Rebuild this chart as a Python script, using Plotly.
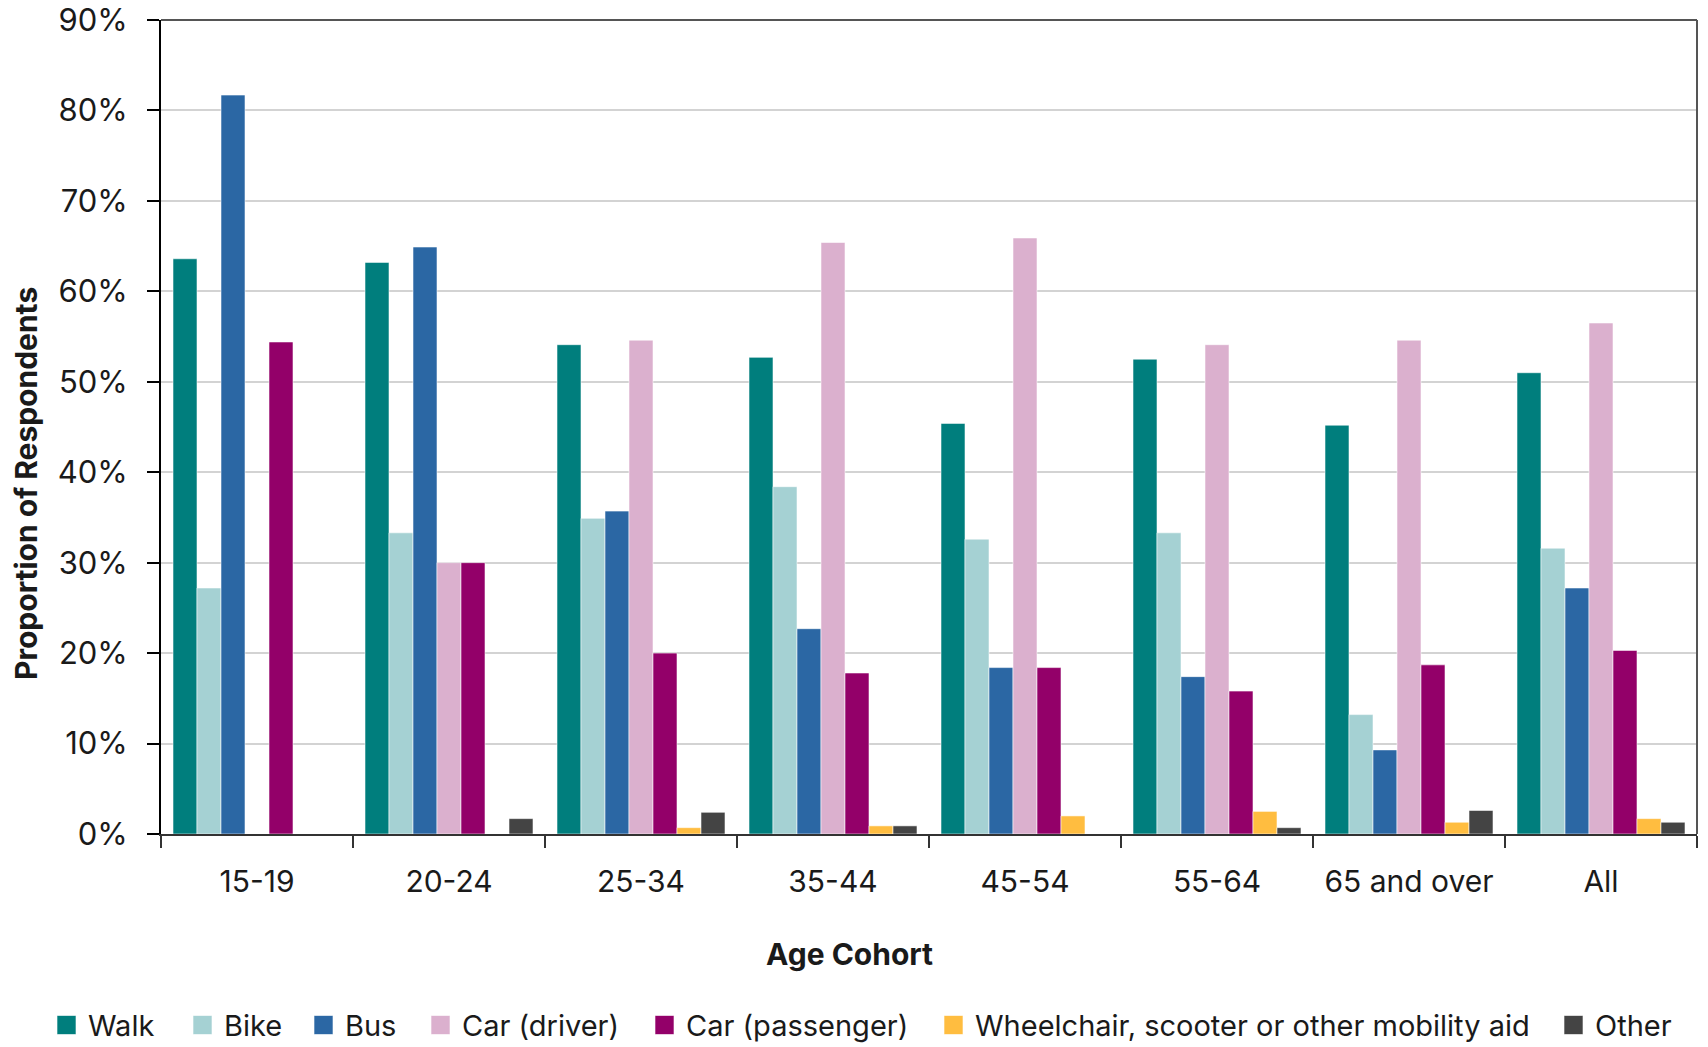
import plotly.graph_objects as go

# Age cohorts on the x axis
cohorts = ["15-19", "20-24", "25-34", "35-44", "45-54", "55-64", "65 and over", "All"]

# Share of respondents (%) using each mode, per cohort
walk = [63.6, 63.2, 54.1, 52.7, 45.4, 52.5, 45.2, 51.0]
bike = [27.2, 33.3, 34.9, 38.4, 32.6, 33.3, 13.2, 31.6]
bus = [81.7, 64.9, 35.7, 22.7, 18.4, 17.4, 9.3, 27.2]
car_driver = [0.0, 30.0, 54.6, 65.4, 65.9, 54.1, 54.6, 56.5]
car_passenger = [54.4, 30.0, 20.0, 17.8, 18.4, 15.8, 18.7, 20.3]
mobility_aid = [0.0, 0.0, 0.7, 0.9, 2.0, 2.5, 1.3, 1.7]
other = [0.0, 1.7, 2.4, 0.9, 0.0, 0.7, 2.6, 1.3]

series = [
    ("Walk", walk, "#007E7D"),
    ("Bike", bike, "#A5D1D3"),
    ("Bus", bus, "#2B67A4"),
    ("Car (driver)", car_driver, "#DBB0CE"),
    ("Car (passenger)", car_passenger, "#930069"),
    ("Wheelchair, scooter or other mobility aid", mobility_aid, "#FFBD40"),
    ("Other", other, "#444444"),
]

FONT = "Inter"
W, H = 1708, 1047
ML, MR, MT, MB = 161, 11, 20, 213
PW, PH = W - ML - MR, H - MT - MB


def px_x(px):
    """Horizontal pixel position -> paper coordinate."""
    return (px - ML) / PW


def px_y(py):
    """Vertical pixel position (from top) -> paper coordinate."""
    return (H - MB - py) / PH


fig = go.Figure()
for name, values, color in series:
    fig.add_trace(go.Bar(
        name=name,
        x=cohorts,
        y=values,
        marker=dict(color=color, line=dict(color="rgba(255,255,255,0.55)", width=1)),
        showlegend=False,
    ))

fig.update_layout(
    barmode="group",
    bargap=0.125,
    bargroupgap=0,
    width=W,
    height=H,
    margin=dict(l=ML, r=MR, t=MT, b=MB, autoexpand=False),
    paper_bgcolor="white",
    plot_bgcolor="white",
    font=dict(family=FONT, color="#1a1a1a", size=28),
    showlegend=False,
)

fig.update_xaxes(
    automargin=False,
    showline=True,
    linecolor="#333333",
    linewidth=2,
    ticks="outside",
    tickson="boundaries",
    ticklen=12,
    tickwidth=1.5,
    tickcolor="#333333",
    tickfont=dict(family=FONT, size=30, color="#1a1a1a"),
    ticklabelstandoff=20,
    showgrid=False,
)

fig.update_yaxes(
    automargin=False,
    range=[0, 90],
    dtick=10,
    ticksuffix="%",
    showline=True,
    linecolor="black",
    linewidth=2,
    ticks="outside",
    ticklen=12,
    tickwidth=2,
    tickcolor="black",
    tickfont=dict(family=FONT, size=31, color="#1a1a1a"),
    ticklabelstandoff=13,
    showgrid=True,
    gridcolor="#D3D3D3",
    gridwidth=1.5,
    zeroline=False,
)

# Frame lines on the top and right of the plotting area
fig.add_shape(type="line", xref="paper", yref="paper", x0=0, x1=1, y0=1, y1=1,
              line=dict(color="#555555", width=2))
fig.add_shape(type="line", xref="paper", yref="paper", x0=1, x1=1, y0=0, y1=1,
              line=dict(color="#555555", width=2))

# Axis titles
fig.add_annotation(text="<b>Age Cohort</b>", xref="paper", yref="paper",
                   x=px_x(849), y=px_y(954), xanchor="center", yanchor="middle",
                   showarrow=False, font=dict(family=FONT, size=30, color="#1a1a1a"))
fig.add_annotation(text="<b>Proportion of Respondents</b>", xref="paper", yref="paper",
                   x=px_x(26), y=px_y(484), xanchor="center", yanchor="middle",
                   textangle=-90, showarrow=False,
                   font=dict(family=FONT, size=30, color="#1a1a1a"))

# Legend row along the bottom: colour swatch followed by the series name
legend_left = [57, 193, 314, 431, 655, 944, 1564]
SW = 19
LEG_Y = 1025
for (name, _, color), left in zip(series, legend_left):
    fig.add_shape(type="rect", xref="paper", yref="paper",
                  x0=px_x(left), x1=px_x(left + SW),
                  y0=px_y(LEG_Y + SW / 2), y1=px_y(LEG_Y - SW / 2),
                  fillcolor=color, line=dict(color="rgba(255,255,255,0.6)", width=1))
    fig.add_annotation(text=name, xref="paper", yref="paper",
                       x=px_x(left + SW + 10), y=px_y(LEG_Y), xanchor="left", yanchor="middle",
                       showarrow=False, font=dict(family=FONT, size=29, color="#1a1a1a"))

fig.write_html("out.html")
